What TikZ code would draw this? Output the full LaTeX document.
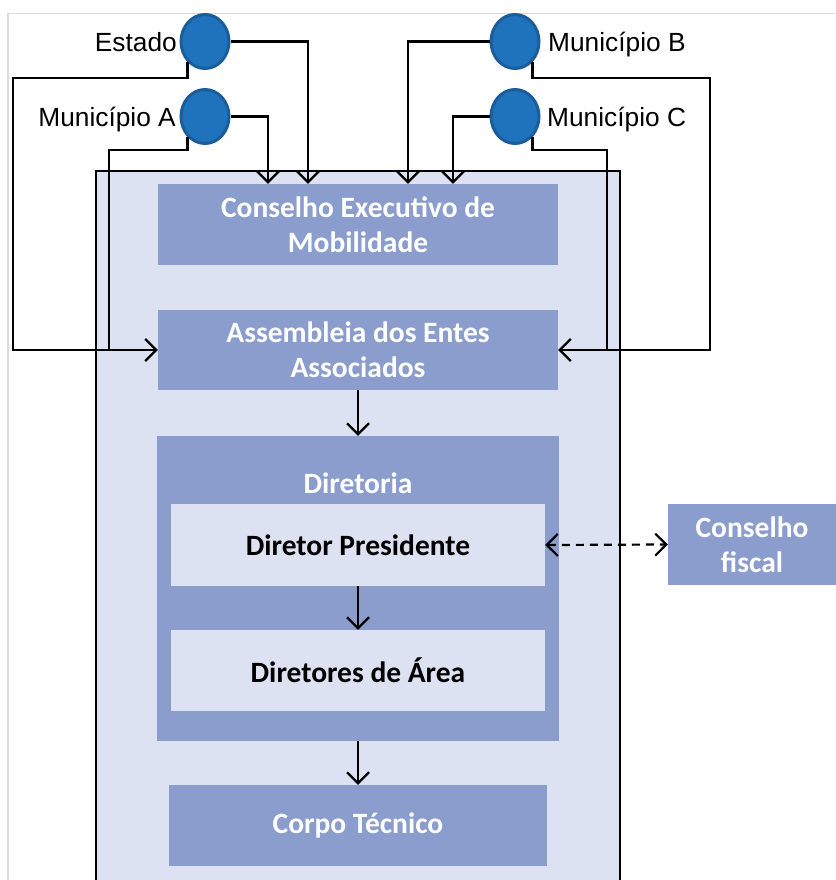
\documentclass[tikz,border=0pt]{standalone}
\usepackage{fontspec}
\setmainfont{Liberation Sans}
\newfontfamily\boxfont{Carlito}
\usetikzlibrary{arrows.meta,shapes.geometric,calc}
\definecolor{paleblue}{HTML}{DCE2F1}
\definecolor{boxblue}{HTML}{8A9DCC}
\definecolor{dotfill}{HTML}{1F73BC}
\definecolor{dotline}{HTML}{1B5C9A}
\definecolor{framegray}{HTML}{DADADA}
\tikzset{
  blkbox/.style={rectangle, fill=boxblue, draw=none, text=white,
    font=\boxfont\bfseries\fontsize{29.5}{35}\selectfont, align=center, inner sep=0pt},
  innerbox/.style={rectangle, fill=paleblue, draw=none, text=black,
    font=\boxfont\bfseries\fontsize{29.5}{35}\selectfont, align=center, inner sep=0pt},
  member/.style={ellipse, fill=dotfill, draw=dotline, line width=3pt,
    minimum width=48pt, minimum height=54pt, inner sep=0pt},
  lbl/.style={font=\fontsize{26.3}{30}\selectfont, inner sep=0pt},
  conn/.style={line width=2.2pt, draw=black},
  arr/.style={conn, -{Straight Barb[length=11pt,width=22pt,line width=2.2pt]}},
  dblarr/.style={conn, {Straight Barb[length=11pt,width=22pt,line width=2.2pt]}-{Straight Barb[length=11pt,width=22pt,line width=2.2pt]}, dash pattern=on 8pt off 6pt}
}
\begin{document}
\begin{tikzpicture}[x=1pt,y=-1pt]
\useasboundingbox (0,0) rectangle (835,880);
% page frame
\draw[framegray, line width=1.2pt] (8,880) -- (8,13.5) -- (835,13.5);

% consortium area
\fill[paleblue] (96,171) rectangle (620,880);
\draw[line width=2.2pt] (96,880) -- (96,171) -- (620,171) -- (620,880);

% governing bodies
\node[blkbox, minimum width=400pt, minimum height=81pt] (cex) at (358,224.5) {Conselho Executivo de\\Mobilidade};
\node[blkbox, minimum width=400pt, minimum height=80pt] (asm) at (358,350) {Assembleia dos Entes\\Associados};
\node[blkbox, minimum width=402pt, minimum height=305pt] (dir) at (358,588.5) {};
\node[blkbox, anchor=center] (dirlbl) at (358,483) {Diretoria};
\node[innerbox, minimum width=374pt, minimum height=82pt] (dp) at (358,545) {Diretor Presidente};
\node[innerbox, minimum width=374pt, minimum height=81pt] (da) at (358,670.5) {Diretores de Área};
\node[blkbox, minimum width=378pt, minimum height=81pt] (ct) at (358,825.5) {Corpo Técnico};
\node[blkbox, minimum width=168pt, minimum height=81pt] (cf) at (752,544.5) {Conselho\\fiscal};

% members
\node[member] (est) at (205,41.5) {};
\node[member] (mua) at (205,116.5) {};
\node[member] (mub) at (515,41.5) {};
\node[member] (muc) at (515,116.5) {};
\node[lbl, anchor=base east] (lest) at (177,52) {Estado};
\node[lbl, anchor=base east] (lmua) at (176,127) {Município A};
\node[lbl, anchor=base west] (lmub) at (548,52) {Município B};
\node[lbl, anchor=base west] (lmuc) at (547,127) {Município C};

% lanes
\coordinate (laneE) at (13,78);
\coordinate (laneA) at (109,150);
\coordinate (laneB) at (710,78);
\coordinate (laneC) at (607,150);

% members to the executive council
\draw[arr] (est.east) -| ($(cex.north)+(-50,0)$);
\draw[arr] (mua.east) -| ($(cex.north)+(-90,0)$);
\draw[arr] (mub.west) -| ($(cex.north)+(50,0)$);
\draw[arr] (muc.west) -| ($(cex.north)+(95,0)$);

% members to the assembly
\draw[arr] (est.-130) |- (laneE) |- (asm.west);
\draw[conn] (mua.-130) |- (laneA) -- (laneA |- asm.west);
\draw[arr] (mub.-50) |- (laneB) |- (asm.east);
\draw[conn] (muc.-50) |- (laneC) -- (laneC |- asm.east);

% hierarchy
\draw[arr] (asm.south) -- (dir.north);
\draw[arr] (dp.south) -- (da.north);
\draw[arr] (dir.south) -- (ct.north);
\draw[dblarr] (dp.east) -- (cf.west);
\end{tikzpicture}
\end{document}
